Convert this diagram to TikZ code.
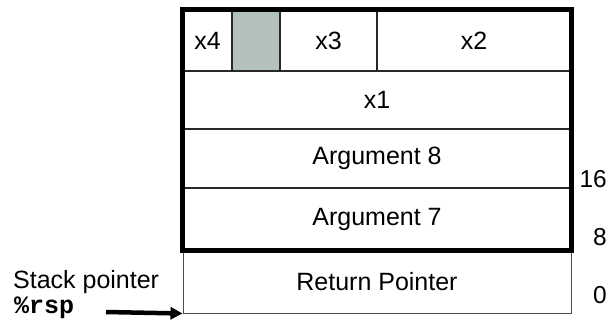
\documentclass[tikz,border=0pt]{standalone}
\usepackage{fontspec}
\setmainfont{Liberation Sans}
\newfontfamily\codefont{Liberation Mono}
\usetikzlibrary{arrows.meta}
\definecolor{shade}{RGB}{178,193,190}
\definecolor{thinline}{RGB}{40,40,40}
\begin{document}
\begin{tikzpicture}[x=1pt,y=-1pt,
  cell/.style={draw=thinline,line width=1.2pt,inner sep=0pt,font=\fontsize{25}{27}\selectfont},
  lbl/.style={inner sep=0pt,font=\fontsize{25}{27}\selectfont},
  frame/.style={line width=4.5pt},
  ptr/.style={line width=4.5pt,-{Triangle[length=12pt,width=12pt]}}]
\useasboundingbox (0,0) rectangle (611,325);
% top row
\node[cell,minimum width=49pt,minimum height=61pt] (x4) at (207.5,40.5) {x4};
\node[cell,fill=shade,minimum width=48pt,minimum height=61pt] (pad) at (256,40.5) {};
\node[cell,minimum width=97pt,minimum height=61pt] (x3) at (328.5,40.5) {x3};
\node[cell,minimum width=194pt,minimum height=61pt] (x2) at (474,40.5) {x2};
% full rows
\node[cell,minimum width=388pt,minimum height=58pt] (x1) at (377,100) {x1};
\node[cell,minimum width=388pt,minimum height=59pt] (a8) at (377,158.5) {Argument 8};
\node[cell,minimum width=388pt,minimum height=62pt] (a7) at (377,219) {Argument 7};
\node[cell,draw=black!70,line width=1pt,minimum width=388pt,minimum height=63pt] (ret) at (377,281.5) {Return Pointer};
% thick frame
\draw[frame] (x4.north west) rectangle (a7.south east);
% offsets
\node[lbl,anchor=east,font=\fontsize{24.5}{27}\selectfont] (o16) at (607,179) {16};
\node[lbl,anchor=east,font=\fontsize{24.5}{27}\selectfont] (o8) at (607,237) {8};
\node[lbl,anchor=east,font=\fontsize{24.5}{27}\selectfont] (o0) at (607,295) {0};
% stack pointer
\node[lbl,anchor=base west] (sp) at (13,288) {Stack pointer};
\node[inner sep=0pt,anchor=base west,font=\codefont\bfseries\fontsize{25}{27}\selectfont] (rsp) at (14,313) {\%rsp};
\coordinate (tail) at (106,312);
\draw[ptr] (tail) -- (ret.south west);
\end{tikzpicture}
\end{document}
